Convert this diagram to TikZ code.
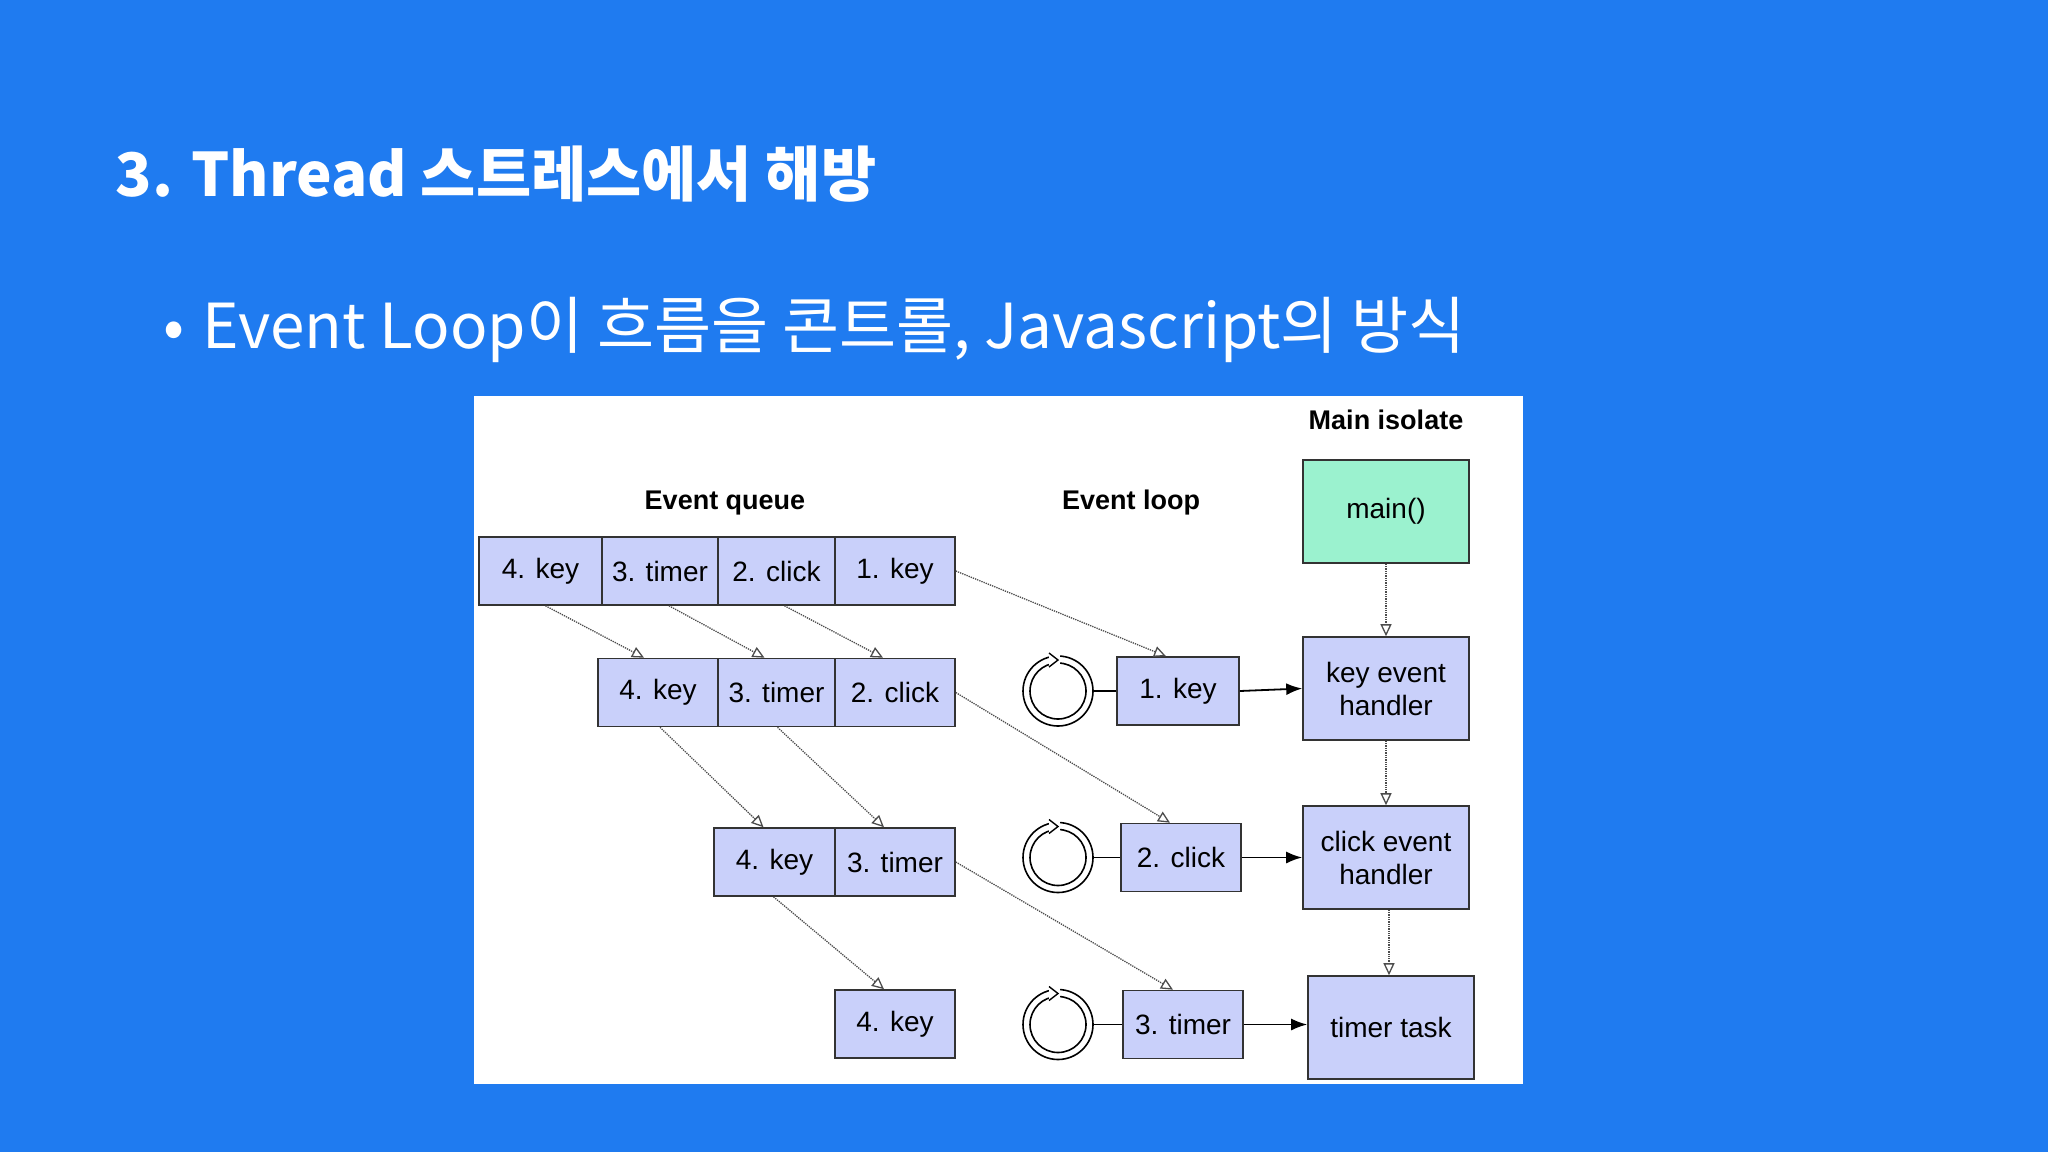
\documentclass[tikz,border=0pt]{standalone}
\usepackage{fontspec}
\setmainfont{Liberation Sans}
\newfontfamily\kr{Noto Sans CJK KR}
\usetikzlibrary{arrows.meta,calc}
\definecolor{bg}{HTML}{1F7BF0}
\definecolor{boxc}{HTML}{C9D0FA}
\definecolor{mainc}{HTML}{9BF2CF}
\tikzset{
 qbox/.style={draw=black!80,line width=1.6pt,fill=boxc,minimum height=68pt,inner sep=0pt,font=\fontsize{28}{30}\selectfont},
 hbox/.style={draw=black!80,line width=1.6pt,fill=boxc,minimum width=166pt,minimum height=103pt,inner sep=0pt,align=center,font=\fontsize{28}{33}\selectfont},
 dotarr/.style={densely dotted,line width=1.3pt,draw=black!70,-{Triangle[open,length=12pt,width=11pt,line width=1.3pt]}},
 solarr/.style={line width=1.8pt,-{Latex[length=16pt,width=12pt]}},
 hdr/.style={font=\bfseries\fontsize{27}{30}\selectfont},
}
\begin{document}
\begin{tikzpicture}[x=1pt,y=-1pt]
\fill[bg] (0,0) rectangle (2048,1152);
\useasboundingbox (0,0) rectangle (2048,1152);
\node[anchor=west,text=white,font=\kr\bfseries\fontsize{60}{64}\selectfont] (title) at (112,174) {3. Thread 스트레스에서 해방};
\node[anchor=west,text=white,font=\kr\fontsize{62}{66}\selectfont] (bullet) at (160,330) {•\hspace{18pt}Event Loop이 흐름을 콘트롤, Javascript의 방식};
\fill[white] (474,396) rectangle (1523,1084);
\node[hdr] (mi) at (1386,420) {Main isolate};
\node[hdr] (eq) at (725,503) {Event queue};
\node[hdr] (el) at (1131,503) {Event loop};
% row 1
\node[qbox,minimum width=123pt] (a1) at (540.5,571) {4. key};
\node[qbox,minimum width=116pt] (a2) at (660,571) {3. timer};
\node[qbox,minimum width=117pt] (a3) at (776.5,571) {2. click};
\node[qbox,minimum width=120pt] (a4) at (895,571) {1. key};
% row 2
\node[qbox,minimum width=120pt] (b1) at (658,692.5) {4. key};
\node[qbox,minimum width=117pt] (b2) at (776.5,692.5) {3. timer};
\node[qbox,minimum width=120pt] (b3) at (895,692.5) {2. click};
% row 3
\node[qbox,minimum width=121pt] (c1) at (774.5,862) {4. key};
\node[qbox,minimum width=120pt] (c2) at (895,862) {3. timer};
% row 4
\node[qbox,minimum width=120pt] (d1) at (895,1024) {4. key};
% loop boxes
\node[qbox,minimum width=122pt] (l1) at (1178,691) {1. key};
\node[qbox,minimum width=120pt] (l2) at (1181,857.5) {2. click};
\node[qbox,minimum width=120pt] (l3) at (1183,1024.5) {3. timer};
% handlers
\node[hbox,fill=mainc] (hm) at (1386,511.5) {main()};
\node[hbox] (hk) at (1386,688.5) {key event\\handler};
\node[hbox] (hc) at (1386,857.5) {click event\\handler};
\node[hbox] (ht) at (1391,1027.5) {timer task};
% loop icons
\foreach \n/\y in {o1/691,o2/857.5,o3/1024.5}{
  \coordinate (\n) at (1058,\y);
  \draw[line width=1.6pt,fill=white] (1058,\y) circle (35pt);
  \draw[line width=1.6pt] (1058,\y) circle (28pt);
  \fill[white] (1052,\y-37) rectangle (1060,\y-25);
  \draw[line width=1.4pt,fill=white] (1049,\y-38) -- (1058,\y-31) -- (1049,\y-24);
  \coordinate (\n e) at (1093,\y);
}
\draw[line width=1.6pt] (o1e) -- (l1.west);
\draw[line width=1.6pt] (o2e) -- (l2.west);
\draw[line width=1.6pt] (o3e) -- (l3.west);
% solid arrows
\draw[solarr] (l1.east) -- (hk.west);
\draw[solarr] (l2.east) -- (hc.west);
\draw[solarr] (l3.east) -- (ht.west|-l3.east);
% handler chain
\draw[dotarr] (hm.south) -- (hk.north);
\draw[dotarr] (hk.south) -- (hc.north);
\draw[dotarr] ($(hc.south)+(3,0)$) -- ($(ht.north)+(-2,0)$);
% queue shifts
\draw[dotarr] ($(a1.south)+(5,0)$) -- ($(b1.north)+(-14,0)$);
\draw[dotarr] ($(a2.south)+(9,0)$) -- ($(b2.north)+(-12,0)$);
\draw[dotarr] ($(a3.south)+(8,0)$) -- ($(b3.north)+(-12,0)$);
\draw[dotarr] (a4.east) -- ($(l1.north)+(-12,0)$);
\draw[dotarr] ($(b1.south)+(2,0)$) -- ($(c1.north)+(-11,0)$);
\draw[dotarr] ($(b2.south)+(1,0)$) -- ($(c2.north)+(-11,0)$);
\draw[dotarr] (b3.east) -- ($(l2.north)+(-11,0)$);
\draw[dotarr] ($(c1.south)+(-1,0)$) -- ($(d1.north)+(-11,0)$);
\draw[dotarr] (c2.east) -- ($(l3.north)+(-10,0)$);
\end{tikzpicture}
\end{document}
